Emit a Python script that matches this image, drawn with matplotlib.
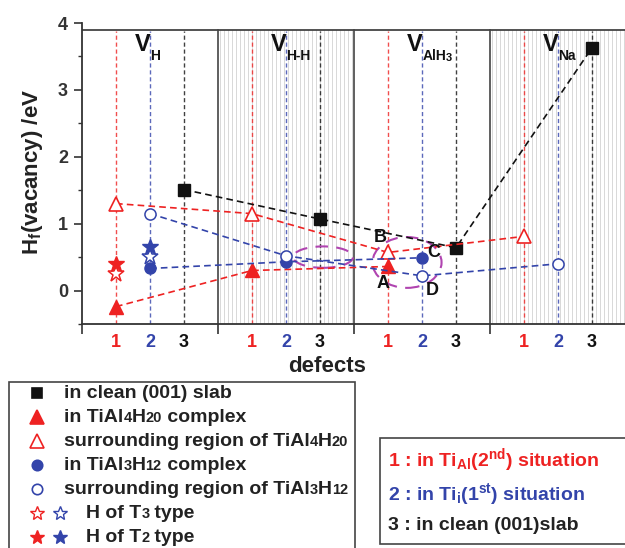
import numpy as np
import matplotlib
matplotlib.use('Agg')
import matplotlib.pyplot as plt
from matplotlib.patches import Ellipse, Rectangle

plt.rcParams['font.family'] = ['Liberation Sans', 'DejaVu Sans']
plt.rcParams['font.weight'] = 'bold'
plt.rcParams['mathtext.fontset'] = 'custom'
plt.rcParams['mathtext.rm'] = 'Liberation Sans:bold'
plt.rcParams['mathtext.it'] = 'Liberation Sans:bold'
plt.rcParams['mathtext.bf'] = 'Liberation Sans:bold'

######## data (x positions: 1,2,3 / 5,6,7 / 9,10,11 / 13,14,15)
x_clean = [3, 7, 11, 15]
y_clean = [1.51, 1.07, 0.64, 3.63]

x_tri = [1, 5, 9]
y_tri = [-0.24, 0.30, 0.36]

x_tri_open = [1, 5, 9, 13]
y_tri_open = [1.30, 1.15, 0.57, 0.81]

x_circ = [2, 6, 10]
y_circ = [0.33, 0.43, 0.49]

x_circ_open = [2, 6, 10, 14]
y_circ_open = [1.15, 0.52, 0.22, 0.40]

# stars: (x, y)
star_t3 = {'red': (1, 0.25), 'blue': (2, 0.50)}
star_t2 = {'red': (1, 0.40), 'blue': (2, 0.65)}

# section subscripts as (text, small?) runs
sections = [[('H', 0)], [('H-H', 0)], [('AlH', 0), ('3', 1)], [('Na', 0)]]
tick_pos = [1, 2, 3, 5, 6, 7, 9, 10, 11, 13, 14, 15]
tick_lab = ['1', '2', '3'] * 4

red = '#ee2222'
blue = '#3344aa'
black = '#111111'
purple = '#b044b0'
tick_col = [red, blue, black] * 4


def runs_text(axx, x, y, parts, sizes, color, **kw):
    # draw consecutive text runs; parts = [(text, size_index)]
    t = axx.text(x, y, parts[0][0], fontsize=sizes[parts[0][1]], fontweight='bold',
                 color=color, va='center', ha='left', **kw)
    prev = t
    for s, k in parts[1:]:
        prev = axx.annotate(s, xy=(1, 0), xycoords=prev, fontsize=sizes[k],
                            fontweight='bold', color=color, va='bottom', ha='left', **kw)
    return t


fig = plt.figure(figsize=(6.25, 5.48), dpi=100)
ax = fig.add_axes([82/625, (548-324)/548, 544/625, 301/548])
ax.set_xlim(0, 16)
ax.set_ylim(-0.5, 4)

####### background: hatched sections + frame
for x0 in [4, 12]:
    for xv in np.arange(x0 + 0.06, x0 + 4, 0.118):
        ax.plot([xv, xv], [-0.5, 3.9], color='#d2d2d2', lw=0.6, zorder=0)
for xs in [4, 8, 12]:
    ax.plot([xs, xs], [-0.5, 3.9], color='#444444', lw=1.2, zorder=1)
ax.plot([0, 16], [3.9, 3.9], color='#444444', lw=1.3, zorder=1)

####### vertical dashed guides
for p, c in zip(tick_pos, tick_col):
    ax.plot([p, p], [-0.5, 3.88], color=c, lw=1.0, ls=(0, (3, 2)), alpha=0.8, zorder=1)

####### section labels
for i, s in enumerate(sections):
    xv = 4 * i + 1.56
    ax.text(xv, 3.58, 'V', fontsize=17, fontweight='bold', color=black, ha='left', va='baseline')
    runs_text(ax, xv + 0.45, 3.50, s, [10, 8], black)

####### data series
dash = (0, (4, 2.5))
ax.plot(x_clean, y_clean, color=black, ls=dash, lw=1.2, marker='s', ms=9,
        mfc=black, mec=black, zorder=4)
ax.plot(x_tri, y_tri, color=red, ls=dash, lw=1.2, marker='^', ms=10,
        mfc=red, mec=red, zorder=4)
ax.plot(x_tri_open, y_tri_open, color=red, ls=dash, lw=1.2, marker='^', ms=10,
        mfc='white', mec=red, mew=1.2, zorder=4)
ax.plot(x_circ, y_circ, color=blue, ls=dash, lw=1.2, marker='o', ms=8,
        mfc=blue, mec=blue, zorder=4)
ax.plot(x_circ_open, y_circ_open, color=blue, ls=dash, lw=1.2, marker='o', ms=8,
        mfc='white', mec=blue, mew=1.1, zorder=4)
for k, c in [('red', red), ('blue', blue)]:
    ax.plot(*star_t3[k], marker='*', ms=12, mfc='white', mec=c, mew=1.1, ls='none', zorder=5)
    ax.plot(*star_t2[k], marker='*', ms=12, mfc=c, mec=c, ls='none', zorder=5)

####### ellipses and letters
for (cx, cy, w, h) in [(7.09, 0.50, 1.76, 0.32), (9.56, 0.42, 2.03, 0.76)]:
    ax.add_patch(Ellipse((cx, cy), w, h, fill=False, ec=purple, lw=1.5,
                         ls=(0, (6, 4)), zorder=3))
for t, xv, yv in [('B', 8.76, 0.79), ('A', 8.85, 0.10), ('C', 10.35, 0.57), ('D', 10.3, 0.0)]:
    ax.text(xv, yv, t, fontsize=13, fontweight='bold', ha='center', va='center', color=black, zorder=6)

####### axes styling
for s in ['top', 'right']:
    ax.spines[s].set_visible(False)
for s in ['left', 'bottom']:
    ax.spines[s].set_color('#333333')
    ax.spines[s].set_linewidth(1.3)
ax.set_yticks([0, 1, 2, 3, 4])
ax.set_yticks([-0.5, 0.5, 1.5, 2.5, 3.5], minor=True)
ax.tick_params(axis='y', which='major', direction='out', length=6, width=1.2,
               labelsize=13, colors='#333333', pad=4)
ax.tick_params(axis='y', which='minor', direction='out', length=3, width=1.0, color='#333333')
ax.set_xticks([0, 4, 8, 12, 16])
ax.set_xticklabels([])
ax.set_xticks(tick_pos, minor=True)
ax.set_xticklabels(tick_lab, minor=True)
ax.tick_params(axis='x', which='major', direction='out', length=7, width=1.2, color='#333333')
ax.tick_params(axis='x', which='minor', length=0, labelsize=13, pad=7)
for lab, c in zip(ax.get_xticklabels(minor=True), tick_col):
    lab.set_color(c)
    lab.set_fontweight('bold')
for lab in ax.get_yticklabels():
    lab.set_fontweight('bold')

ax.set_xlabel('defects', fontsize=16, fontweight='bold', color='#222222', va='center')
ax.xaxis.set_label_coords((327 - 82) / 544, (324 - 366) / 301)
ax.set_ylabel('H$_f$(vacancy) /eV', fontsize=16, fontweight='bold', color='#222222', va='center')
ax.yaxis.set_label_coords((33 - 82) / 544, (324 - 172) / 301)

####### legend boxes (drawn in pixel coords)
lax = fig.add_axes([0, 0, 1, 1], zorder=10)
lax.set_xlim(0, 625)
lax.set_ylim(548, 0)
lax.axis('off')
lax.patch.set_alpha(0)

fs = 14
sz = [fs, 10.5]
lax.add_patch(Rectangle((9, 382), 346, 200, fill=True, fc='white', ec='#444444', lw=1.2))
leg_items = [
    ('s', black, black, [('in clean (001) slab', 0)]),
    ('^', red, red, [('in TiAl', 0), ('4', 1), ('H', 0), ('20', 1), (' complex', 0)]),
    ('^', 'white', red, [('surrounding region of TiAl', 0), ('4', 1), ('H', 0), ('20', 1)]),
    ('o', blue, blue, [('in TiAl', 0), ('3', 1), ('H', 0), ('12', 1), (' complex', 0)]),
    ('o', 'white', blue, [('surrounding region of TiAl', 0), ('3', 1), ('H', 0), ('12', 1)]),
]
ms_leg = {'s': 7, '^': 10, 'o': 7.5}
for i, (m, fc, ec, lab) in enumerate(leg_items):
    yv = 393 + 24 * i
    lax.plot(37, yv, marker=m, ms=ms_leg[m], mfc=fc, mec=ec, mew=1.2, ls='none')
    runs_text(lax, 64, yv, lab, sz, '#222222')
for i, (fill, lab) in enumerate([(False, [('H of T', 0), ('3', 1), (' type', 0)]),
                                 (True, [('H of T', 0), ('2', 1), (' type', 0)])]):
    yv = 513 + 24 * i
    for xv, c in [(37, red), (60, blue)]:
        lax.plot(xv, yv, marker='*', ms=10, mfc=c if fill else 'white', mec=c, mew=1.0, ls='none')
    runs_text(lax, 86, yv, lab, sz, '#222222')

lax.add_patch(Rectangle((380, 438), 260, 106, fill=True, fc='white', ec='#444444', lw=1.2))
box_txt = [
    (460, red, r'1 : in Ti$_{Al}$(2$^{nd}$) situation'),
    (494, blue, r'2 : in Ti$_{i}$(1$^{st}$) situation'),
    (525, '#222222', '3 : in clean (001)slab'),
]
for yv, c, t in box_txt:
    lax.text(388, yv, t, fontsize=fs, fontweight='bold', color=c, va='center', ha='left')

fig.savefig('out.png', dpi=100)
